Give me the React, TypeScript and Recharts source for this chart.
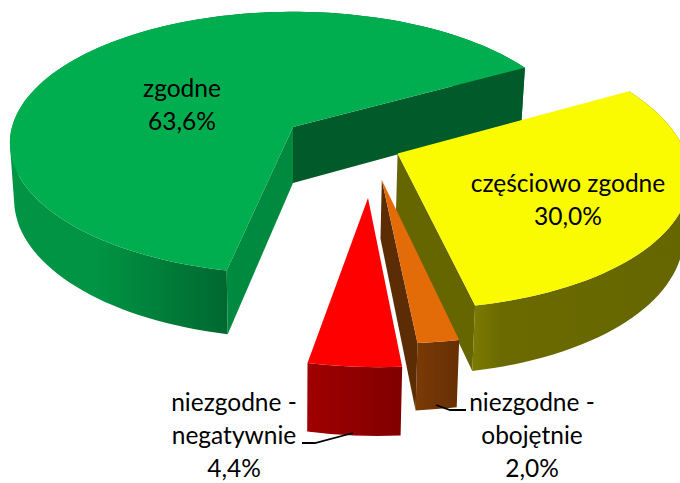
import { PieChart, Pie } from "recharts";

const categories = ["zgodne", "częściowo zgodne", "niezgodne - obojętnie", "niezgodne - negatywnie"];
const shares = [63.6, 30.0, 2.0, 4.4];

const data = categories.map((name, i) => ({ name, value: shares[i] }));

// tilt of the disc and strength of the perspective
const TILT = 0.46;
const PERSP = 0.122;
const DEPTH = 56;

// how far each slice is pulled out, in disc radii
const EXPLODE = [
  [0, 0],
  [0.363, -0.2],
  [0.301, -0.39],
  [0.25, -0.515],
];

const SLICE_STYLES = [
  {
    top: "#00AE50",
    startWall: "#008A40",
    endWall: "#005A2A",
    wall: ["#009444", "#009444", "#00682F"],
    mid: 0.4,
  },
  {
    top: "#FAFA00",
    startWall: "#6B6B00",
    endWall: "#666600",
    wall: ["#7A7A00", "#6A6A00", "#666600"],
    mid: 0.12,
  },
  {
    top: "#E36C09",
    startWall: "#6E3305",
    endWall: "#5C2C04",
    wall: ["#7A3A06", "#703405", "#663003"],
    mid: 0.5,
  },
  {
    top: "#FF0000",
    startWall: "#900000",
    endWall: "#900000",
    wall: ["#A00000", "#900000", "#800000"],
    mid: 0.5,
  },
];

const LABELS = [
  { x: 182, y: 97, lines: ["zgodne"] },
  { x: 568, y: 192, lines: ["częściowo zgodne"] },
  { x: 532, y: 411, lines: ["niezgodne -", "obojętnie"] },
  { x: 234, y: 411, lines: ["niezgodne -", "negatywnie"] },
];

const LEADERS = ["", "", "M436 405 L450 410 L466 410", "M302 443 L315 443 L353 433"];

function SliceShape(props: any) {
  const { cx, cy, outerRadius: R, startAngle, endAngle, index } = props;
  const [sx, sy] = EXPLODE[index];
  const style = SLICE_STYLES[index];
  const label = LABELS[index];

  const project = (X: number, Y: number, down: boolean) => {
    const f = 1 / (1 + PERSP * Y);
    const x = R * X * f;
    const y = -R * TILT * Y * f;
    if (!down) return [cx + x, cy + y];
    return [cx + x * 0.985, cy + y + DEPTH * f];
  };
  const rim = (theta: number, down: boolean) => {
    const t = (theta * Math.PI) / 180;
    return project(sx + Math.sin(t), sy + Math.cos(t), down);
  };
  const apex = (down: boolean) => project(sx, sy, down);

  const from = 90 - startAngle;
  const to = 90 - endAngle;
  const steps = Math.max(2, Math.ceil((to - from) / 2));
  const thetas = Array.from({ length: steps + 1 }, (_, i) => from + ((to - from) * i) / steps);

  const path = (pts: number[][]) =>
    "M" + pts.map((p) => `${p[0].toFixed(1)} ${p[1].toFixed(1)}`).join(" L") + " Z";

  const topArc = thetas.map((t) => rim(t, false));
  const lowArc = thetas.map((t) => rim(t, true));
  const xs = topArc.map((p) => p[0]);
  const gradId = `wall-${index}`;

  // the rim wall as one quad per step, all wound the same way so overlaps do not cancel
  const wallPath = topArc
    .slice(1)
    .map((p, i) => {
      const quad = [topArc[i], p, lowArc[i + 1], lowArc[i]];
      const area = quad.reduce((sum, a, j) => {
        const b = quad[(j + 1) % 4];
        return sum + a[0] * b[1] - b[0] * a[1];
      }, 0);
      return path(area < 0 ? quad.slice().reverse() : quad);
    })
    .join(" ");

  // a cut face only shows when it looks towards the viewer
  const showStart = Math.cos(((from - 90) * Math.PI) / 180) < 0;
  const showEnd = Math.cos(((to + 90) * Math.PI) / 180) < 0;

  return (
    <g>
      <defs>
        <linearGradient
          id={gradId}
          gradientUnits="userSpaceOnUse"
          x1={Math.min(...xs)}
          x2={index === 0 ? rim(from, false)[0] : Math.max(...xs)}
          y1={0}
          y2={0}
        >
          <stop offset="0" stopColor={style.wall[0]} />
          <stop offset={style.mid} stopColor={style.wall[1]} />
          <stop offset="1" stopColor={style.wall[2]} />
        </linearGradient>
      </defs>
      <path d={wallPath} fill={`url(#${gradId})`} />
      {showStart && (
        <path d={path([apex(false), rim(from, false), rim(from, true), apex(true)])} fill={style.startWall} />
      )}
      {showEnd && (
        <path d={path([apex(false), rim(to, false), rim(to, true), apex(true)])} fill={style.endWall} />
      )}
      <path d={path([apex(false), ...topArc])} fill={style.top} />
      {LEADERS[index] && <path d={LEADERS[index]} fill="none" stroke="#000" strokeWidth={1.8} />}
      <text
        x={label.x}
        y={label.y}
        textAnchor="middle"
        fontFamily="Lato, sans-serif"
        fontSize={24.5}
        fill="#000"
      >
        {label.lines.map((line, i) => (
          <tspan key={line} x={label.x} dy={i === 0 ? 0 : 33}>
            {line}
          </tspan>
        ))}
        <tspan x={label.x} dy={33}>
          {props.payload.value.toFixed(1).replace(".", ",")}%
        </tspan>
      </text>
    </g>
  );
}

export default function App() {
  return (
    <div style={{ position: "absolute", left: 0, top: 0, width: 680, height: 483, overflow: "hidden" }}>
      <PieChart width={680} height={483} margin={{ top: 0, right: 0, bottom: 0, left: 0 }}>
        <Pie
          data={data}
          dataKey="value"
          nameKey="name"
          cx={293}
          cy={127}
          outerRadius={281}
          innerRadius={0}
          startAngle={-102}
          endAngle={-462}
          stroke="none"
          labelLine={false}
          label={false}
          shape={SliceShape}
          isAnimationActive={false}
        />
      </PieChart>
    </div>
  );
}
